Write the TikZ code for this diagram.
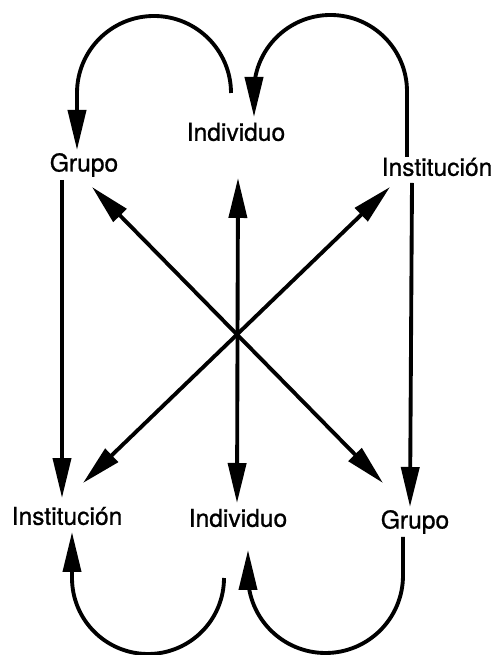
\documentclass[tikz,border=0pt]{standalone}
\usepackage{fontspec}
\setmainfont{TeX Gyre Heros}
\newfontfamily\lblfont{TeX Gyre Heros}[FakeBold=0.8]
\usetikzlibrary{arrows.meta, calc}

\begin{document}
\begin{tikzpicture}[
  x=0.02cm, y=0.02cm,
  lbl/.style={inner sep=0pt, font=\lblfont\fontsize{14}{16}\selectfont},
  flow/.style={-{Triangle[length=0.8cm, width=0.36cm]}, line width=2.2pt},
  dflow/.style={{Triangle[length=0.8cm, width=0.36cm]}-{Triangle[length=0.8cm, width=0.36cm]}, line width=2.2pt}
]
\useasboundingbox (0,0) rectangle (499,655);

% Top row
\node[lbl] (indtop) at (236,523) {Individuo};
\node[lbl] (grptop) at (84,490) {Grupo};
\node[lbl] (insttop) at (437,488) {Institución};

% Bottom row
\node[lbl] (instbot) at (67,139) {Institución};
\node[lbl] (indbot) at (238,137) {Individuo};
\node[lbl] (grpbot) at (415,133) {Grupo};

% Loops at the top
\draw[flow] ($(indtop)+(-5,39)$) arc[start angle=0, end angle=180, radius=77] -- ($(grptop)+(-7,15)$);
\draw[flow] ($(insttop)+(-30,10)$) -- ++(0,65.5) arc[start angle=0, end angle=180, radius=76.5] -- ($(indtop)+(18,15)$);

% Sides and middle
\draw[flow] ($(grptop)+(-22,-15)$) -- ($(instbot)+(-5,18)$);
\draw[flow] ($(insttop)+(-25,-16)$) -- ($(grpbot)+(-5,15)$);
\draw[dflow] ($(indtop)+(2,-46)$) -- ($(indbot)+(-1,15)$);

% Diagonals
\draw[dflow] ($(grptop)+(8,-22)$) -- ($(grpbot)+(-32,39)$);
\draw[dflow] ($(insttop)+(-47,-20)$) -- ($(instbot)+(16,33)$);

% Loops at the bottom
\draw[flow] ($(indbot)+(-14,-60)$) arc[start angle=0, end angle=-180, radius=76] -- ($(instbot)+(5,-16)$);
\draw[flow] ($(grpbot)+(-12,-15)$) -- ++(0,-38.5) arc[start angle=0, end angle=-180, radius=77.5] -- ($(indbot)+(10,-32)$);

\end{tikzpicture}
\end{document}
